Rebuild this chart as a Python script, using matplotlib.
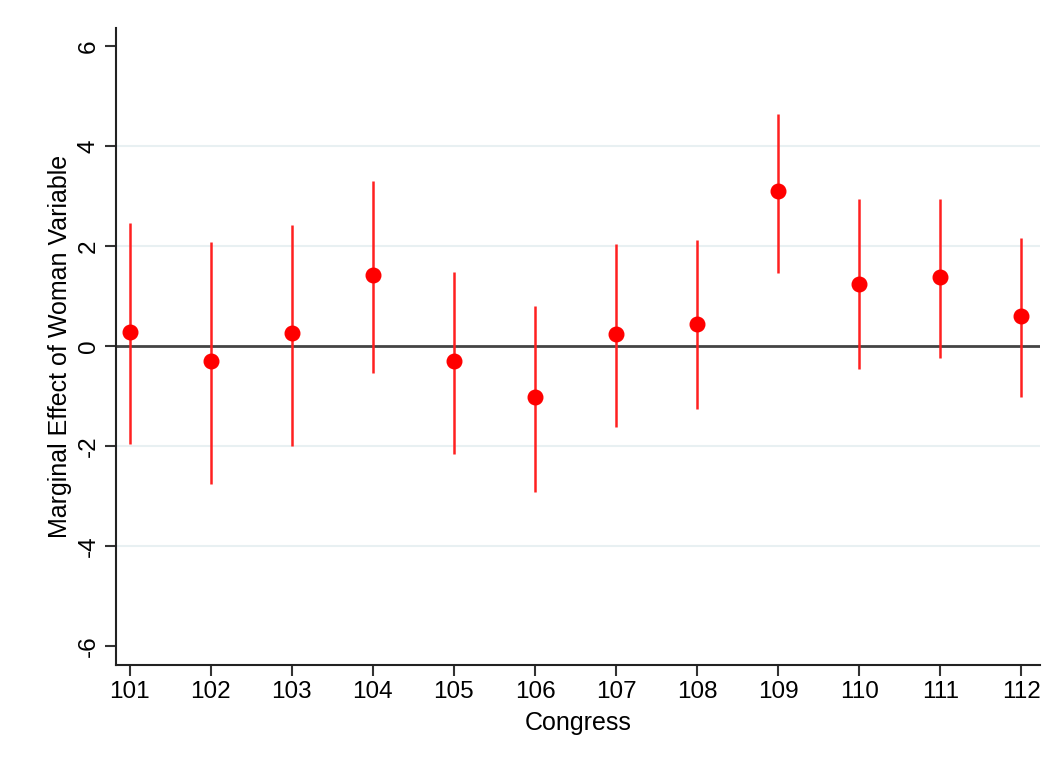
import matplotlib
matplotlib.use("Agg")
import matplotlib.pyplot as plt

congress = [101, 102, 103, 104, 105, 106, 107, 108, 109, 110, 111, 112]
estimate = [0.28, -0.30, 0.26, 1.42, -0.30, -1.02, 0.24, 0.44, 3.10, 1.24, 1.38, 0.60]
upper = [2.46, 2.08, 2.42, 3.30, 1.48, 0.80, 2.04, 2.12, 4.64, 2.94, 2.94, 2.16]
lower = [-1.96, -2.76, -2.00, -0.54, -2.16, -2.92, -1.62, -1.26, 1.46, -0.46, -0.24, -1.02]
yticks = [-6, -4, -2, 0, 2, 4, 6]
gridlines = [-4, -2, 2, 4]

plt.rcParams['font.family'] = ['Liberation Sans', 'DejaVu Sans']

fig = plt.figure(figsize=(10.6, 7.68), dpi=100)
ax = fig.add_axes([0.1094, 0.1341, 0.8716, 0.8294])

for y in gridlines:
    ax.axhline(y, color='#e8f0f2', lw=1.5, zorder=0)
ax.axhline(0, color='#444444', lw=2, zorder=1)

ax.vlines(congress, lower, upper, color='#ff2020', lw=1.8, zorder=2)
ax.plot(congress, estimate, 'o', color='#ff0000', markersize=10.5, zorder=3)

ax.set_xlim(100.83, 112.23)
ax.set_ylim(-6.38, 6.36)
ax.set_xticks(congress)
ax.set_xticklabels([str(c) for c in congress])
ax.set_yticks(yticks)
ax.set_yticklabels([str(y) for y in yticks], rotation=90, va='center')

for s in ['top', 'right']:
    ax.spines[s].set_visible(False)
for s in ['left', 'bottom']:
    ax.spines[s].set_linewidth(1.5)
    ax.spines[s].set_color('#222222')

ax.tick_params(axis='both', labelsize=17.5, length=8, width=1.5, color='#333333', direction='out')
ax.set_xlabel('Congress', fontsize=18, labelpad=6)
ax.set_ylabel('Marginal Effect of Woman Variable', fontsize=18)

fig.savefig('out.png', dpi=100)
